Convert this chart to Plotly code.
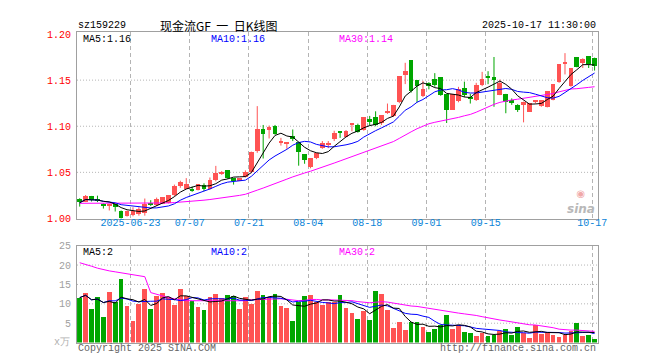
import plotly.graph_objects as go
import pandas as pd

# ---------------- data ----------------
dates = [
    "06-10", "06-11", "06-12", "06-13", "06-16", "06-17", "06-18", "06-19", "06-20", "06-23",
    "06-24", "06-25", "06-26", "06-27", "06-30", "07-01", "07-02", "07-03", "07-04", "07-07",
    "07-08", "07-09", "07-10", "07-11", "07-14", "07-15", "07-16", "07-17", "07-18", "07-21",
    "07-22", "07-23", "07-24", "07-25", "07-28", "07-29", "07-30", "07-31", "08-01", "08-04",
    "08-05", "08-06", "08-07", "08-08", "08-11", "08-12", "08-13", "08-14", "08-15", "08-18",
    "08-19", "08-20", "08-21", "08-22", "08-25", "08-26", "08-27", "08-28", "08-29", "09-01",
    "09-02", "09-03", "09-04", "09-05", "09-08", "09-09", "09-10", "09-11", "09-12", "09-15",
    "09-16", "09-17", "09-18", "09-19", "09-22", "09-23", "09-24", "09-25", "09-26", "09-29",
    "09-30", "10-09", "10-10", "10-13", "10-14", "10-15", "10-16", "10-17",
]
opens = [
    1.0205, 1.0177, 1.0237, 1.0205, 1.0156, 1.0135, 1.0149, 1.0079, 1.0023, 1.0037,
    1.0040, 1.0058, 1.0163, 1.0146, 1.0156, 1.0163, 1.0247, 1.0353, 1.0318, 1.0318,
    1.0304, 1.0360, 1.0318, 1.0409, 1.0479, 1.0521, 1.0430, 1.0409, 1.0444, 1.0500,
    1.0727, 1.0965, 1.0965, 1.1000, 1.0811, 1.0811, 1.0888, 1.0825, 1.0691, 1.0551,
    1.0650, 1.0762, 1.0797, 1.0853, 1.0930, 1.0881, 1.1011, 1.1014, 1.0958, 1.1070,
    1.1099, 1.1028, 1.1141, 1.1106, 1.1260, 1.1548, 1.1716, 1.1492, 1.1323, 1.1463,
    1.1513, 1.1534, 1.1344, 1.1176, 1.1274, 1.1407, 1.1316, 1.1281, 1.1442, 1.1530,
    1.1534, 1.1337, 1.1344, 1.1281, 1.1225, 1.1228, 1.1155, 1.1267, 1.1211, 1.1204,
    1.1281, 1.1471, 1.1674, 1.1428, 1.1744, 1.1681, 1.1758, 1.1737,
]
highs = [
    1.0219, 1.0254, 1.0244, 1.0247, 1.0163, 1.0150, 1.0156, 1.0086, 1.0086, 1.0121,
    1.0121, 1.0216, 1.0198, 1.0226, 1.0230, 1.0254, 1.0367, 1.0409, 1.0437, 1.0346,
    1.0367, 1.0381, 1.0444, 1.0570, 1.0514, 1.0521, 1.0430, 1.0430, 1.0521, 1.0725,
    1.1218, 1.1014, 1.1007, 1.1014, 1.0874, 1.0814, 1.0965, 1.0832, 1.0691, 1.0650,
    1.0713, 1.0839, 1.0839, 1.0951, 1.0930, 1.0958, 1.1028, 1.1028, 1.1099, 1.1112,
    1.1162, 1.1120, 1.1246, 1.1232, 1.1541, 1.1688, 1.1716, 1.1499, 1.1492, 1.1478,
    1.1576, 1.1534, 1.1344, 1.1344, 1.1427, 1.1484, 1.1351, 1.1471, 1.1590, 1.1597,
    1.1751, 1.1506, 1.1351, 1.1302, 1.1239, 1.1267, 1.1253, 1.1270, 1.1281, 1.1379,
    1.1449, 1.1667, 1.1793, 1.1632, 1.1751, 1.1737, 1.1758, 1.1744,
]
lows = [
    1.0128, 1.0177, 1.0184, 1.0177, 1.0107, 1.0086, 1.0075, 0.9988, 1.0020, 1.0023,
    1.0030, 1.0030, 1.0135, 1.0135, 1.0156, 1.0163, 1.0240, 1.0332, 1.0318, 1.0289,
    1.0304, 1.0296, 1.0311, 1.0402, 1.0472, 1.0430, 1.0367, 1.0409, 1.0444, 1.0490,
    1.0712, 1.0650, 1.0867, 1.0909, 1.0790, 1.0755, 1.0839, 1.0572, 1.0593, 1.0544,
    1.0643, 1.0755, 1.0762, 1.0839, 1.0874, 1.0881, 1.0944, 1.0930, 1.0951, 1.1007,
    1.1000, 1.1014, 1.1134, 1.1100, 1.1250, 1.1457, 1.1365, 1.1260, 1.1316, 1.1400,
    1.1428, 1.1330, 1.1035, 1.1176, 1.1260, 1.1316, 1.1246, 1.1274, 1.1435, 1.1456,
    1.1211, 1.1337, 1.1141, 1.1232, 1.1155, 1.1042, 1.1155, 1.1246, 1.1211, 1.1204,
    1.1281, 1.1471, 1.1562, 1.1428, 1.1639, 1.1632, 1.1632, 1.1604,
]
closes = [
    1.0170, 1.0240, 1.0195, 1.0195, 1.0128, 1.0138, 1.0121, 1.0005, 1.0079, 1.0079,
    1.0093, 1.0149, 1.0149, 1.0205, 1.0226, 1.0247, 1.0353, 1.0395, 1.0374, 1.0304,
    1.0367, 1.0311, 1.0416, 1.0486, 1.0500, 1.0430, 1.0409, 1.0430, 1.0500, 1.0718,
    1.0965, 1.0916, 1.0986, 1.0916, 1.0839, 1.0814, 1.0860, 1.0712, 1.0635, 1.0650,
    1.0706, 1.0818, 1.0814, 1.0923, 1.0923, 1.0944, 1.1014, 1.0937, 1.1099, 1.1042,
    1.1007, 1.1120, 1.1155, 1.1225, 1.1541, 1.1597, 1.1379, 1.1436, 1.1400, 1.1435,
    1.1442, 1.1330, 1.1176, 1.1344, 1.1400, 1.1337, 1.1302, 1.1442, 1.1513, 1.1527,
    1.1500, 1.1470, 1.1260, 1.1253, 1.1169, 1.1263, 1.1253, 1.1270, 1.1281, 1.1379,
    1.1449, 1.1667, 1.1677, 1.1632, 1.1639, 1.1723, 1.1674, 1.1653,
]
volumes = [  # 万
    11.6, 12.8, 8.75, 11.75, 6.75, 13.1, 10.6, 16.5, 9.5, 5.6,
    10.1, 14.0, 8.75, 12.0, 12.8, 11.8, 9.9, 13.8, 12.0, 10.9,
    9.3, 8.5, 11.75, 12.6, 11.5, 12.25, 12.0, 8.75, 11.75, 10.0,
    13.5, 12.25, 11.75, 12.5, 9.5, 9.0, 5.75, 10.6, 12.0, 12.25,
    10.5, 9.75, 10.5, 10.6, 12.25, 9.0, 7.75, 6.25, 8.25, 6.0,
    13.5, 12.75, 8.5, 3.75, 5.5, 3.25, 5.5, 5.5, 4.0, 2.75,
    3.5, 4.5, 7.25, 3.5, 4.25, 2.75, 2.5, 1.75, 2.5, 1.75,
    2.0, 3.0, 3.5, 2.0, 4.0, 2.5, 1.25, 4.5, 2.25, 2.5,
    2.0, 1.5, 2.0, 3.0, 5.25, 1.75, 2.0, 1.0,
]
ma30_head = [
    1.0164, 1.0164, 1.0164, 1.0163, 1.0163, 1.0163, 1.0162, 1.0162, 1.0162, 1.0162,
    1.0162, 1.0163, 1.0163, 1.0164, 1.0166, 1.0168, 1.0172, 1.0176, 1.0180, 1.0185,
    1.0191, 1.0198, 1.0205, 1.0213, 1.0222, 1.0232, 1.0240, 1.0250, 1.0262,
]
vol_ma30_head = [
    20.6, 20.2, 19.7, 19.2, 18.8, 18.5, 18.25, 18.0, 17.8, 17.5,
    17.25, 17.0, 12.9, 12.4, 12.0, 11.6, 11.3, 11.0, 10.8, 10.8,
    10.8, 10.9, 10.8, 10.8, 10.8, 10.8, 10.8, 10.8, 10.8,
]
tick_dates = ["06-23", "07-07", "07-21", "08-04", "08-18", "09-01", "09-15", "10-17"]
tick_labels = ["2025-06-23", "07-07", "07-21", "08-04", "08-18", "09-01", "09-15", "10-17"]
price_ticks = [1.00, 1.05, 1.10, 1.15, 1.20]
vol_ticks = [5, 10, 15, 20, 25]

# ---------------- derived ----------------
W, H = 660, 360
RED, GREEN = "#ff5353", "#00a600"
MONO = "Liberation Mono, DejaVu Sans Mono, monospace"

n = len(dates)
idx = list(range(n))
cs = pd.Series(closes)
ma5 = cs.rolling(5, min_periods=1).mean().tolist()
ma10 = cs.rolling(10, min_periods=1).mean().tolist()
ma30 = ma30_head + cs.rolling(30).mean().tolist()[len(ma30_head):]
vs = pd.Series(volumes)
vma5 = vs.rolling(5, min_periods=1).mean().tolist()
vma10 = vs.rolling(10, min_periods=1).mean().tolist()
vma30 = vol_ma30_head + vs.rolling(30).mean().tolist()[len(vol_ma30_head):]

up = [c >= o for o, c in zip(opens, closes)]
colors = [RED if u else GREEN for u in up]
body_base = [min(o, c) for o, c in zip(opens, closes)]
body_h = [max(abs(c - o), 0.0011) for o, c in zip(opens, closes)]

fig = go.Figure()

# wicks
for flag, col in ((True, RED), (False, GREEN)):
    wx, wy = [], []
    for i in idx:
        if up[i] == flag:
            wx += [i, i, None]
            wy += [lows[i], highs[i], None]
    fig.add_trace(go.Scatter(x=wx, y=wy, mode="lines", line=dict(color=col, width=1),
                             hoverinfo="skip", xaxis="x", yaxis="y"))
# bodies
fig.add_trace(go.Bar(x=idx, y=body_h, base=body_base, width=0.8, marker=dict(color=colors, line_width=0),
                     xaxis="x", yaxis="y"))
# price MAs
for ys, col in ((ma30, "#ff00ff"), (ma10, "#0000ff"), (ma5, "#000000")):
    fig.add_trace(go.Scatter(x=idx, y=ys, mode="lines", line=dict(color=col, width=1),
                             xaxis="x", yaxis="y"))
# volume
fig.add_trace(go.Bar(x=idx, y=volumes, width=0.8, marker=dict(color=colors, line_width=0),
                     xaxis="x2", yaxis="y2"))
for ys, col in ((vma30, "#ff00ff"), (vma10, "#0000ff"), (vma5, "#000000")):
    fig.add_trace(go.Scatter(x=idx, y=ys, mode="lines", line=dict(color=col, width=1),
                             xaxis="x2", yaxis="y2"))

tickvals = [dates.index(d) - 0.4 for d in tick_dates]
xr = [-0.45, n - 0.45]
xdom = [70 / W, 598 / W]
common_x = dict(domain=xdom, range=xr, tickvals=tickvals, showgrid=True, gridcolor="#b4b4b4",
                griddash="4px,3px", gridwidth=1, zeroline=False, showline=True, linecolor="#a0a0a0",
                linewidth=1, mirror=True, ticks="", ticklen=0, fixedrange=True)

fig.update_layout(
    width=W, height=H, margin=dict(l=0, r=0, t=0, b=0),
    paper_bgcolor="white", plot_bgcolor="white", showlegend=False, barmode="overlay",
    bargap=0,
    xaxis=dict(**common_x, anchor="y", ticktext=tick_labels, ticklabelstandoff=-6,
               tickfont=dict(family=MONO, size=10, color="#0a84d8")),
    xaxis2=dict(**common_x, anchor="y2", showticklabels=False),
    yaxis=dict(domain=[1 - 212 / H, 1 - 20 / H], range=[0.9999, 1.2018], tickvals=price_ticks,
               ticktext=[f"{v:.2f}" for v in price_ticks], showgrid=False, zeroline=False,
               tickfont=dict(family=MONO, size=10, color="#ff0000"), showline=True,
               linecolor="#a0a0a0", mirror=True, ticks="", ticklen=0, ticklabelstandoff=3,
               fixedrange=True),
    yaxis2=dict(domain=[1 - 340 / H, 1 - 240 / H], range=[0, 25], tickvals=vol_ticks,
                ticktext=[str(v) for v in vol_ticks], showgrid=False, zeroline=False,
                tickfont=dict(family=MONO, size=10, color="#a0a0a0"), showline=True,
                linecolor="#a0a0a0", mirror=True, ticks="", ticklen=0, ticklabelstandoff=3,
                fixedrange=True),
)

# dotted horizontal grid lines
for v in price_ticks[1:-1]:
    fig.add_shape(type="line", xref="x domain", yref="y", x0=0, x1=1, y0=v, y1=v,
                  line=dict(color="#b4b4b4", width=1, dash="1px,2px"), layer="below")
for v in vol_ticks[:-1]:
    fig.add_shape(type="line", xref="x2 domain", yref="y2", x0=0, x1=1, y0=v, y1=v,
                  line=dict(color="#b4b4b4", width=1, dash="1px,2px"), layer="below")


def txt(x, y, s, color="#000", size=10, family=MONO, anchor="left", **kw):
    fig.add_annotation(x=x / W, y=1 - y / H, xref="paper", yref="paper", text=s, showarrow=False,
                       xanchor=anchor, yanchor="middle", font=dict(family=family, size=size, color=color),
                       **kw)


NB = "\u00a0"
txt(69, 13, "sz159229")
txt(213, 13, f"现金流GF{NB}{NB}一{NB}{NB}日K线图", size=12, family="Noto Sans CJK SC", anchor="center")
txt(598, 13, "2025-10-17 11:30:00", anchor="right")
txt(74, 27, "MA5:1.16")
txt(204, 27, "MA10:1.16", color="#0000ff")
txt(334, 27, "MA30:1.14", color="#ff00ff")
txt(74, 247, "MA5:2")
txt(204, 247, "MA10:2", color="#0000ff")
txt(334, 247, "MA30:2", color="#ff00ff")
txt(69, 346, "Copyright 2025 SINA.COM", color="#666666")
txt(598, 346, "http://finance.sina.com.cn", color="#666666", anchor="right")
txt(65, 340, "x万", color="#b0b0b0", anchor="right")
txt(581, 195, "<span style='color:#f0a8a8;font-size:10px'>◉</span><br><b><i>sina</i></b>",
    color="#b8b8b8", size=12, family="DejaVu Sans", anchor="center")

fig.write_html("out.html")
